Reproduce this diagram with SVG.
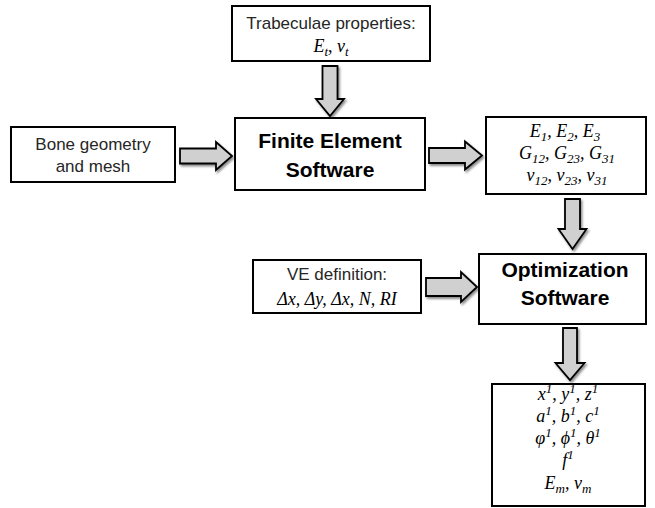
<svg xmlns="http://www.w3.org/2000/svg" width="655" height="508" viewBox="0 0 655 508">
<defs>
<filter id="sh" x="-30%" y="-30%" width="160%" height="160%">
<feDropShadow dx="1.5" dy="2" stdDeviation="1.2" flood-color="#000" flood-opacity="0.45"/>
</filter>
<style>
.box{fill:#fff;stroke:#000;stroke-width:2}
.arr{fill:#d0d0d0;stroke:#000;stroke-width:1.8;stroke-linejoin:miter;filter:url(#sh)}
.t{font-family:"Liberation Sans",Arial,sans-serif;font-size:17px;fill:#262626;text-anchor:middle}
.b{font-family:"Liberation Sans",Arial,sans-serif;font-size:21px;font-weight:bold;fill:#000;text-anchor:middle}
.m{font-family:"Liberation Serif","Times New Roman",serif;font-style:italic;font-size:18px;fill:#000;text-anchor:middle}
.s{font-size:13px}
</style>
</defs>
<rect width="655" height="508" fill="#fff"/>
<g id="connectors">
<path class="arr" d="M322.5,66 H337.5 V99 H344 L330,116 L316,99 H322.5 Z"/>
<path class="arr" d="M180,148.5 H216 V142 L232,156 L216,170 V163.5 H180 Z"/>
<path class="arr" d="M429,148 H465 V141.5 L482,155.5 L465,169.5 V163 H429 Z"/>
<path class="arr" d="M565,199 H580 V229 H586.5 L572.5,249 L558.5,229 H565 Z"/>
<path class="arr" d="M426,278 H461 V272 L477,287 L461,302 V296 H426 Z"/>
<path class="arr" d="M563,328 H577 V363 H584.5 L570,380 L555.5,363 H563 Z"/>
</g>
<g id="trabeculae">
<rect class="box" x="232" y="6" width="198" height="55"/>
<text class="t" x="331" y="29">Trabeculae properties:</text>
<text class="m" x="331" y="52">E<tspan class="s" dy="4">t</tspan><tspan dy="-4">, ν</tspan><tspan class="s" dy="4">t</tspan></text>
</g>
<g id="bone">
<rect class="box" x="11" y="127" width="164" height="55"/>
<text class="t" x="93" y="150">Bone geometry</text>
<text class="t" x="93" y="172">and mesh</text>
</g>
<g id="fe">
<rect class="box" x="235" y="118" width="190" height="72"/>
<text class="b" x="330" y="148">Finite Element</text>
<text class="b" x="330" y="177">Software</text>
</g>
<g id="props">
<rect class="box" x="486" y="117" width="160" height="77"/>
<text class="m" x="565" y="137" font-size="17">E<tspan class="s" dy="4">1</tspan><tspan dy="-4">, E</tspan><tspan class="s" dy="4">2</tspan><tspan dy="-4">, E</tspan><tspan class="s" dy="4">3</tspan></text>
<text class="m" x="567" y="159" font-size="17">G<tspan class="s" dy="4">12</tspan><tspan dy="-4">, G</tspan><tspan class="s" dy="4">23</tspan><tspan dy="-4">, G</tspan><tspan class="s" dy="4">31</tspan></text>
<text class="m" x="567" y="181" font-size="17">ν<tspan class="s" dy="4">12</tspan><tspan dy="-4">, ν</tspan><tspan class="s" dy="4">23</tspan><tspan dy="-4">, ν</tspan><tspan class="s" dy="4">31</tspan></text>
</g>
<g id="ve">
<rect class="box" x="253" y="260" width="168" height="53"/>
<text class="t" x="337" y="280">VE definition:</text>
<text class="m" x="337" y="305">Δx, Δy, Δx, N, RI</text>
</g>
<g id="opt">
<rect class="box" x="479" y="254" width="167" height="70"/>
<text class="b" x="565" y="277">Optimization</text>
<text class="b" x="565" y="305">Software</text>
</g>
<g id="results">
<rect class="box" x="492" y="384" width="153" height="122"/>
<text class="m" x="568" y="400" font-size="17">x<tspan class="s" dy="-7">1</tspan><tspan dy="7">, y</tspan><tspan class="s" dy="-7">1</tspan><tspan dy="7">, z</tspan><tspan class="s" dy="-7">1</tspan></text>
<text class="m" x="568" y="422" font-size="17">a<tspan class="s" dy="-7">1</tspan><tspan dy="7">, b</tspan><tspan class="s" dy="-7">1</tspan><tspan dy="7">, c</tspan><tspan class="s" dy="-7">1</tspan></text>
<text class="m" x="568" y="444" font-size="17">φ<tspan class="s" dy="-7">1</tspan><tspan dy="7">, ϕ</tspan><tspan class="s" dy="-7">1</tspan><tspan dy="7">, θ</tspan><tspan class="s" dy="-7">1</tspan></text>
<text class="m" x="568" y="466" font-size="17">f<tspan class="s" dy="-7">1</tspan></text>
<text class="m" x="568" y="489" font-size="17">E<tspan class="s" dy="4">m</tspan><tspan dy="-4">, ν</tspan><tspan class="s" dy="4">m</tspan></text>
</g>
</svg>
